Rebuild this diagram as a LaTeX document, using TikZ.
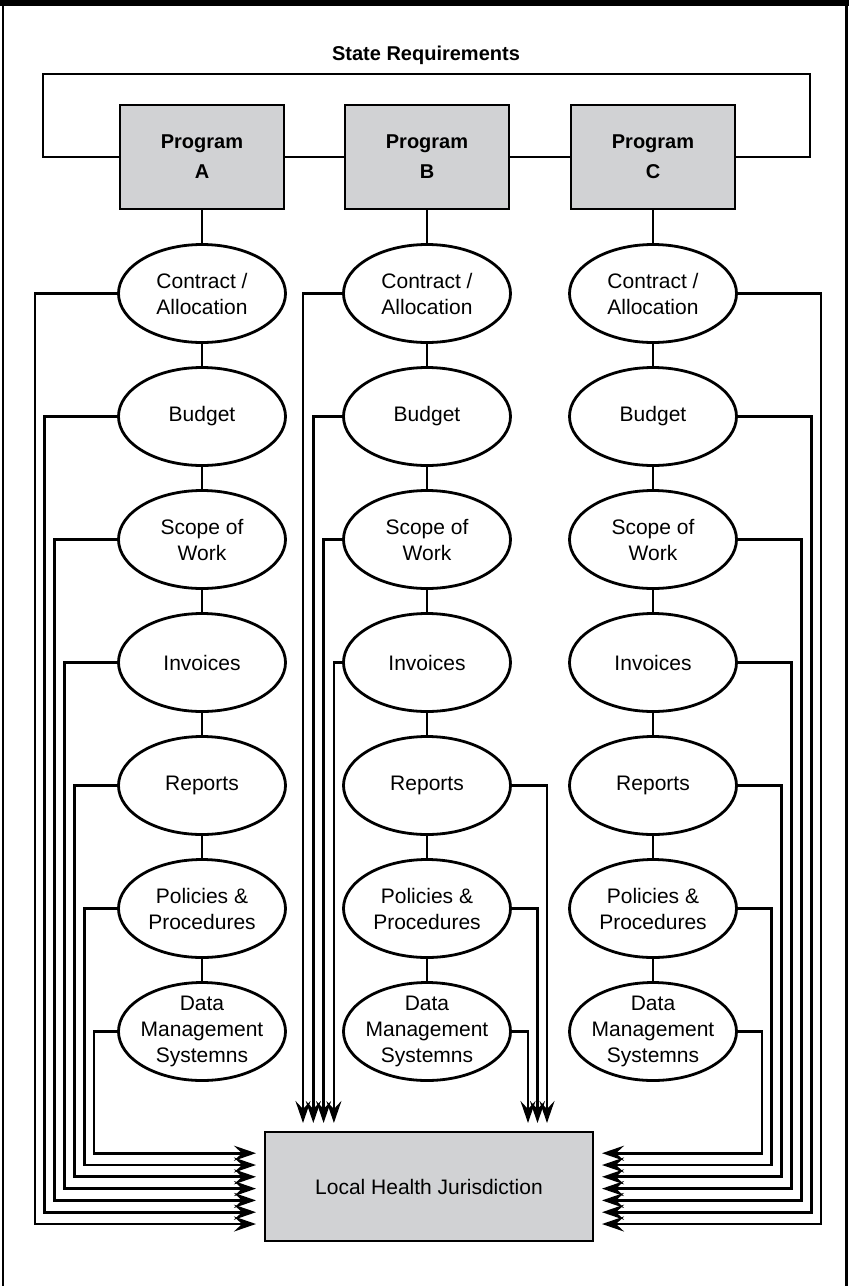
\documentclass[tikz,border=0pt]{standalone}
\usepackage{fontspec}
\setmainfont{Liberation Sans}
\usetikzlibrary{positioning}
\usetikzlibrary{shapes.geometric}
\usetikzlibrary{arrows.meta}
\definecolor{boxgray}{RGB}{209,210,212}

\begin{document}
\begin{tikzpicture}[x=1pt, y=-1pt, line width=2.8pt,
    prog/.style={draw, fill=boxgray, minimum width=164pt, minimum height=104pt,
        inner sep=0pt, align=center, font=\bfseries\fontsize{20}{30}\selectfont},
    item/.style={draw, ellipse, minimum width=167pt, minimum height=98pt,
        inner sep=-6pt, align=center, font=\fontsize{21}{26}\selectfont},
    lhjbox/.style={draw, fill=boxgray, minimum width=328pt, minimum height=109pt,
        font=\fontsize{21}{26}\selectfont},
    flow/.style={-{Stealth[length=22pt, width=15pt, inset=8pt]}}]

% Page size
\useasboundingbox (0,0) rectangle (849,1286);

% Frame
\fill[black] (0,0) rectangle (849,6);
\draw (3,0) -- (3,1286);
\draw (846.5,0) -- (846.5,1286);

% Title
\node[font=\bfseries\fontsize{20}{24}\selectfont] (state) at (426,55) {State Requirements};

% Programs
\node[prog] (progA) at (202,157) {Program\\A};
\node[prog] (progB) at (427,157) {Program\\B};
\node[prog] (progC) at (653,157) {Program\\C};

% Loop round the programs
\draw (progA.west) -| (43,74) -| (810,157) -- (progC.east);
\draw (progA.east) -- (progB.west);
\draw (progB.east) -- (progC.west);

% Ellipses, one column per program
\foreach \txt [count=\i] in {{Contract /\\Allocation}, Budget, {Scope of\\Work}, Invoices,
    Reports, {Policies \&\\Procedures}, {Data\\Management\\Systemns}}
{
    \foreach \col/\cx in {A/202, B/427, C/653}
        \node[item] (\col\i) at (\cx, {293.5+123*(\i-1)}) {\txt};
}

% Vertical links
\foreach \col in {A,B,C}
{
    \draw (prog\col.south) -- (\col1.north);
    \foreach \i [evaluate=\i as \j using int(\i+1)] in {1,...,6}
        \draw (\col\i.south) -- (\col\j.north);
}

% Local Health Jurisdiction
\node[lhjbox] (lhj) at (429,1186.5) {Local Health Jurisdiction};

% Flows from A and C into the sides
\foreach \i in {1,...,7}
{
    \pgfmathsetmacro{\xa}{35+9.83*(\i-1)}
    \pgfmathsetmacro{\xc}{821-9.83*(\i-1)}
    \pgfmathsetmacro{\ya}{1224-11.8*(\i-1)}
    \coordinate (inA\i) at (256,\ya);
    \coordinate (inC\i) at (602,\ya);
    \draw[flow] (A\i.west) -| (\xa,\ya) -- (inA\i);
    \draw[flow] (C\i.east) -| (\xc,\ya) -- (inC\i);
}

% Flows from B into the top
\foreach \i in {1,...,4}
{
    \pgfmathsetmacro{\xb}{303+10.3*(\i-1)}
    \coordinate (inB\i) at (\xb,1123);
    \draw[flow] (B\i.west) -| (inB\i);
}
\foreach \i in {5,6,7}
{
    \pgfmathsetmacro{\xb}{547-9.5*(\i-5)}
    \coordinate (inB\i) at (\xb,1123);
    \draw[flow] (B\i.east) -| (inB\i);
}

\end{tikzpicture}
\end{document}
